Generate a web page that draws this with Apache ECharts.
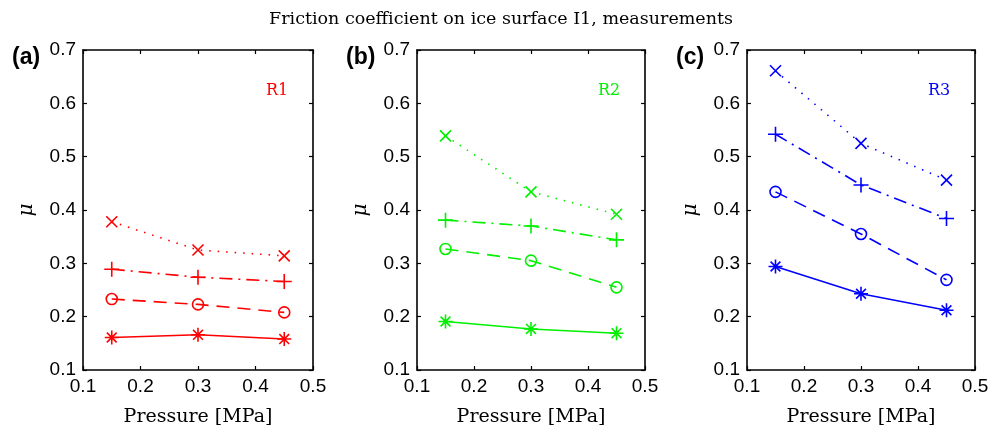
<!DOCTYPE html>
<html>
<head>
<meta charset="utf-8">
<script src="https://cdn.jsdelivr.net/npm/echarts@6/dist/echarts.min.js"></script>
<style>
  html, body { margin: 0; padding: 0; background: #fff; }
  #chart { width: 1002px; height: 430px; }
</style>
</head>
<body>
<div id="chart"></div>
<script>
// Applied pressure [MPa]
const pressure = [0.15, 0.3, 0.45];

// Friction coefficient, run R1
const r1Star   = [0.161, 0.166, 0.158];
const r1Circle = [0.233, 0.223, 0.208];
const r1Plus   = [0.289, 0.274, 0.266];
const r1Cross  = [0.378, 0.325, 0.314];

// Friction coefficient, run R2
const r2Star   = [0.191, 0.177, 0.169];
const r2Circle = [0.327, 0.305, 0.255];
const r2Plus   = [0.381, 0.370, 0.344];
const r2Cross  = [0.539, 0.434, 0.392];

// Friction coefficient, run R3
const r3Star   = [0.294, 0.243, 0.212];
const r3Circle = [0.434, 0.355, 0.269];
const r3Plus   = [0.542, 0.447, 0.384];
const r3Cross  = [0.661, 0.525, 0.456];

const panelLetters = ['(a)', '(b)', '(c)'];
const runNames = ['R1', 'R2', 'R3'];
const runColors = ['#ff0000', '#00f000', '#0000ff'];
const xTicks = { min: 0.1, max: 0.5, interval: 0.1 };
const yTicks = { min: 0.1, max: 0.7, interval: 0.1 };

const runs = [
  [r1Star, r1Circle, r1Plus, r1Cross],
  [r2Star, r2Circle, r2Plus, r2Cross],
  [r3Star, r3Circle, r3Plus, r3Cross]
];

// marker + line style for each of the four curves in a panel
const curveStyles = [
  { symbol: 'path://M0,5L10,5M5,0L5,10M1.5,1.5L8.5,8.5M8.5,1.5L1.5,8.5', size: 14, dash: 'solid' },
  { symbol: 'path://M5,0A5,5 0 1 1 4.99,0Z', size: 11, dash: [13, 8] },
  { symbol: 'path://M0,5L10,5M5,0L5,10', size: 15, dash: [13, 6, 2, 6] },
  { symbol: 'path://M0,0L10,10M0,10L10,0', size: 11, dash: [1.5, 7] }
];

const gridBoxes = [
  { left: 83, width: 230 },
  { left: 417, width: 228 },
  { left: 747, width: 228 }
];

const tickFont = { fontFamily: 'Liberation Sans, Arial, sans-serif', fontSize: 19, color: '#000' };
const frameLine = { lineStyle: { color: '#000', width: 1.6 } };
const tickLine = { show: true, inside: true, length: 4, lineStyle: { color: '#000', width: 1.2 } };

const grid = [], xAxis = [], yAxis = [], series = [], graphic = [];

gridBoxes.forEach((g, i) => {
  grid.push({
    left: g.left, width: g.width, top: 50, height: 320,
    containLabel: false, outerBoundsMode: 'none'
  });

  // bottom / left axes with labels
  xAxis.push({
    type: 'value', gridIndex: i, ...xTicks,
    name: 'Pressure [MPa]', nameLocation: 'middle', nameGap: 38,
    nameTextStyle: { fontFamily: 'DejaVu Serif, serif', fontSize: 19, color: '#000' },
    axisLine: { show: true, onZero: false, ...frameLine },
    axisTick: tickLine,
    axisLabel: { ...tickFont, margin: 7, formatter: v => v.toFixed(1) },
    splitLine: { show: false }
  });
  yAxis.push({
    type: 'value', gridIndex: i, ...yTicks,
    name: 'μ', nameLocation: 'middle', nameGap: 46, nameRotate: 90,
    nameTextStyle: { fontFamily: 'DejaVu Serif, serif', fontStyle: 'italic', fontSize: 20, color: '#000' },
    axisLine: { show: true, onZero: false, ...frameLine },
    axisTick: tickLine,
    axisLabel: { ...tickFont, margin: 7, formatter: v => v.toFixed(1) },
    splitLine: { show: false }
  });
  // top / right mirror axes closing the box
  xAxis.push({
    type: 'value', gridIndex: i, position: 'top', ...xTicks,
    axisLine: { show: true, onZero: false, ...frameLine },
    axisTick: tickLine,
    axisLabel: { show: false }, splitLine: { show: false }
  });
  yAxis.push({
    type: 'value', gridIndex: i, position: 'right', ...yTicks,
    axisLine: { show: true, onZero: false, ...frameLine },
    axisTick: tickLine,
    axisLabel: { show: false }, splitLine: { show: false }
  });

  const color = runColors[i];
  runs[i].forEach((vals, k) => {
    const st = curveStyles[k];
    series.push({
      type: 'line',
      xAxisIndex: 2 * i, yAxisIndex: 2 * i,
      data: pressure.map((p, j) => [p, vals[j]]),
      symbol: st.symbol, symbolSize: st.size, symbolKeepAspect: true,
      showSymbol: true,
      color: color,
      itemStyle: { color: 'rgba(0,0,0,0)', borderColor: color, borderWidth: 1.6 },
      lineStyle: { color: color, width: 1.6, type: st.dash },
      emphasis: { disabled: true },
      animation: false, silent: true
    });
  });

  graphic.push({
    type: 'text', left: g.left - 71, top: 46,
    style: { text: panelLetters[i], font: 'bold 23px Liberation Sans, Arial, sans-serif', fill: '#000' }
  });
  graphic.push({
    type: 'text', left: g.left + g.width - 47, top: 83,
    style: { text: runNames[i], font: '16px DejaVu Serif, serif', fill: color }
  });
});

const chart = echarts.init(document.getElementById('chart'), null, { renderer: 'canvas' });
chart.setOption({
  backgroundColor: '#fff',
  animation: false,
  title: {
    text: 'Friction coefficient on ice surface I1, measurements',
    left: 'center', top: 5,
    textStyle: { fontFamily: 'DejaVu Serif, serif', fontWeight: 'normal', fontSize: 17.5, color: '#000' }
  },
  grid, xAxis, yAxis, series, graphic
});
</script>
</body>
</html>
